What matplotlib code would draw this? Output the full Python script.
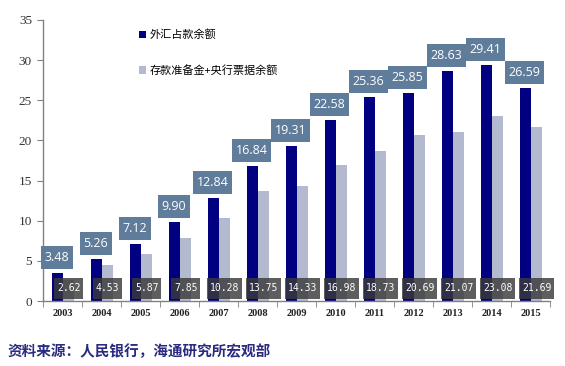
import matplotlib
matplotlib.use("Agg")
import matplotlib.pyplot as plt
from matplotlib.patches import Patch
from matplotlib.path import Path
import numpy as np

plt.rcParams['font.family'] = ['Noto Sans CJK SC', 'DejaVu Sans']

years = ['2003', '2004', '2005', '2006', '2007', '2008', '2009', '2010', '2011', '2012', '2013', '2014', '2015']
fx_balance = [3.48, 5.26, 7.12, 9.90, 12.84, 16.84, 19.31, 22.58, 25.36, 25.85, 28.63, 29.41, 26.59]
reserve_balance = [2.62, 4.53, 5.87, 7.85, 10.28, 13.75, 14.33, 16.98, 18.73, 20.69, 21.07, 23.08, 21.69]
series_names = ['外汇占款余额', '存款准备金+央行票据余额']
source_text = '资料来源：人民银行，海通研究所宏观部'

c_dark = '#000080'
c_gray = '#b3b9cf'
c_top_box = '#5f7c9b'
c_bot_box = '#3a3a3a'


def make_box(padx, pady):
    def box(x0, y0, width, height, mutation_size):
        px = padx * mutation_size
        py = pady * mutation_size
        x1, y1 = x0 - px, y0 - py
        x2, y2 = x0 + width + px, y0 + height + py
        return Path([(x1, y1), (x2, y1), (x2, y2), (x1, y2), (x1, y1)], closed=True)
    return box


fig = plt.figure(figsize=(5.65, 3.66), dpi=100)
ax = fig.add_axes([43/565, 1-301/366, (550-43)/565, (301-20)/366])

x = np.arange(len(years))
w = 0.285
ax.bar(x - 0.13, fx_balance, width=w, color=c_dark, zorder=2)
ax.bar(x + 0.155, reserve_balance, width=w, color=c_gray, zorder=2)

for xi, v in zip(x, fx_balance):
    ax.annotate(f'{v:.2f}', (xi - 0.15, v), xytext=(0, 15.5), textcoords='offset pixels',
                ha='center', va='center', fontsize=9, color='white', family=['Open Sans', 'DejaVu Sans'],
                bbox=dict(boxstyle=make_box(0.3, 0.4), fc=c_top_box, ec='none'), zorder=4)

for xi, v in zip(x, reserve_balance):
    ax.text(xi + 0.16, 1.6, f'{v:.2f}', ha='center', va='center', fontsize=7, color='white',
            family=['DejaVu Sans Mono'],
            bbox=dict(boxstyle=make_box(0.3, 0.55), fc=c_bot_box, ec='none', alpha=0.82), zorder=4)

ax.set_xlim(-0.5, len(years) - 0.5)
ax.set_ylim(0, 35)
ax.set_yticks(np.arange(0, 36, 5))
ax.set_yticklabels([str(t) for t in range(0, 36, 5)], family=['Liberation Serif'], fontsize=9.5, color='#333333')
ax.set_xticks(x)
ax.set_xticklabels(years, family=['Liberation Serif'], fontsize=7.5, fontweight='bold', color='#222222')
ax.set_xticks(np.arange(-0.5, len(years), 1), minor=True)
ax.tick_params(axis='x', which='major', length=0, pad=6)
ax.tick_params(axis='x', which='minor', length=4, color='#808080', direction='out')
ax.tick_params(axis='y', length=4, color='#808080', direction='out', pad=4)

for s in ['top', 'right']:
    ax.spines[s].set_visible(False)
for s in ['left', 'bottom']:
    ax.spines[s].set_color('#808080')
    ax.spines[s].set_linewidth(1)

handles = [Patch(fc=c_dark, ec='none'), Patch(fc=c_gray, ec='none')]
leg = fig.legend(handles, series_names, loc='upper left', bbox_to_anchor=(133/565, 1-24/366),
                 bbox_transform=fig.transFigure, frameon=False, fontsize=8, borderpad=0,
                 handlelength=0.7, handleheight=0.7, handletextpad=0.25, labelspacing=2.2)

fig.text(8/565, 1-351/366, source_text, fontsize=10.5, fontweight='bold', color='#2a2a80',
         ha='left', va='center')

fig.savefig('out.png', dpi=100)
